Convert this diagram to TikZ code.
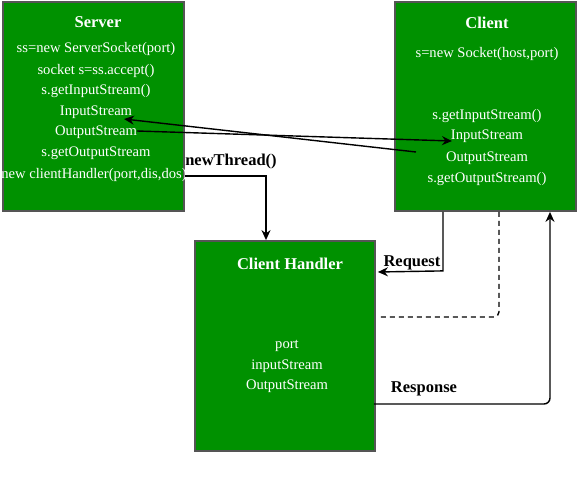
\documentclass[tikz,border=0pt]{standalone}
\usepackage{fontspec}
\setmainfont{Liberation Serif}
\usetikzlibrary{arrows.meta}
\definecolor{boxgreen}{RGB}{0,145,0}
\definecolor{boxedge}{RGB}{85,85,85}
\begin{document}
\begin{tikzpicture}[x=1pt,y=-1pt,
  box/.style={draw=boxedge,line width=1.8pt,fill=boxgreen,inner sep=0pt},
  txt/.style={text=white,font=\fontsize{14.6}{17}\selectfont,inner sep=0pt,yshift=-1.5pt},
  ttl/.style={text=white,font=\bfseries\fontsize{16.5}{19}\selectfont,inner sep=0pt,yshift=-1.5pt},
  lbl/.style={text=black,font=\bfseries\fontsize{16.5}{19}\selectfont,inner sep=0pt,yshift=-1pt},
  conn/.style={line width=1.4pt,black},
  arr/.style={conn,-{Stealth[length=10pt,width=9pt]}}]
\useasboundingbox (0,0) rectangle (582,492);
\fill[white] (0,0) rectangle (582,492);
% boxes
\node[box,minimum width=181pt,minimum height=209pt] (server) at (93.5,106.5) {};
\node[box,minimum width=181pt,minimum height=209pt] (client) at (485.5,106.5) {};
\node[box,minimum width=180pt,minimum height=210pt] (handler) at (285,346) {};
% server text
\node[ttl] (st) at (98,21) {Server};
\node[txt] (s1) at (96,47) {ss=new ServerSocket(port)};
\node[txt] (s2) at (96,69) {socket s=ss.accept()};
\node[txt] (s3) at (96,90) {s.getInputStream()};
\node[txt] (s4) at (96,111) {InputStream};
\node[txt] (s5) at (96,131) {OutputStream};
\node[txt] (s6) at (96,152) {s.getOutputStream};
\node[txt] (s7) at (94,173) {new clientHandler(port,dis,dos)};
% client text
\node[ttl] (ct) at (487,21) {Client};
\node[txt] (c1) at (487,52) {s=new Socket(host,port)};
\node[txt] (c2) at (487,115) {s.getInputStream()};
\node[txt] (c3) at (487,135) {InputStream};
\node[txt] (c4) at (487,157) {OutputStream};
\node[txt] (c5) at (487,178) {s.getOutputStream()};
% handler text
\node[ttl] (ht) at (290,262) {Client Handler};
\node[txt] (h1) at (287,344) {port};
\node[txt] (h2) at (287,365) {inputStream};
\node[txt] (h3) at (287,385) {OutputStream};
% stream arrows
\coordinate (cOutEnd) at (416,152);
\coordinate (sInTip) at (124,119);
\coordinate (sOutEnd) at (137,131);
\coordinate (cInTip) at (452,141);
\draw[arr] (cOutEnd) -- (sInTip);
\draw[arr] (sOutEnd) -- (cInTip);
% newThread
\draw[arr] ([yshift=-69.5pt]server.east) -| ([xshift=-19pt]handler.north);
\node[lbl] (nt) at (231,161) {newThread()};
% request
\draw[arr] ([xshift=-42.5pt]client.south) -- ++(0,59) -- ([xshift=2pt,yshift=74pt]handler.east);
\node[lbl] (rq) at (412,262) {Request};
% dashed
\draw[conn,dashed,dash pattern=on 5pt off 4pt,rounded corners=5pt] ([xshift=5pt,yshift=29pt]handler.east) -| ([xshift=13.5pt]client.south);
% response
\draw[arr,rounded corners=6pt] ([xshift=-2pt,yshift=-58pt]handler.east) -| ([xshift=64.5pt]client.south);
\node[lbl] (rs) at (424,388) {Response};
\end{tikzpicture}
\end{document}
